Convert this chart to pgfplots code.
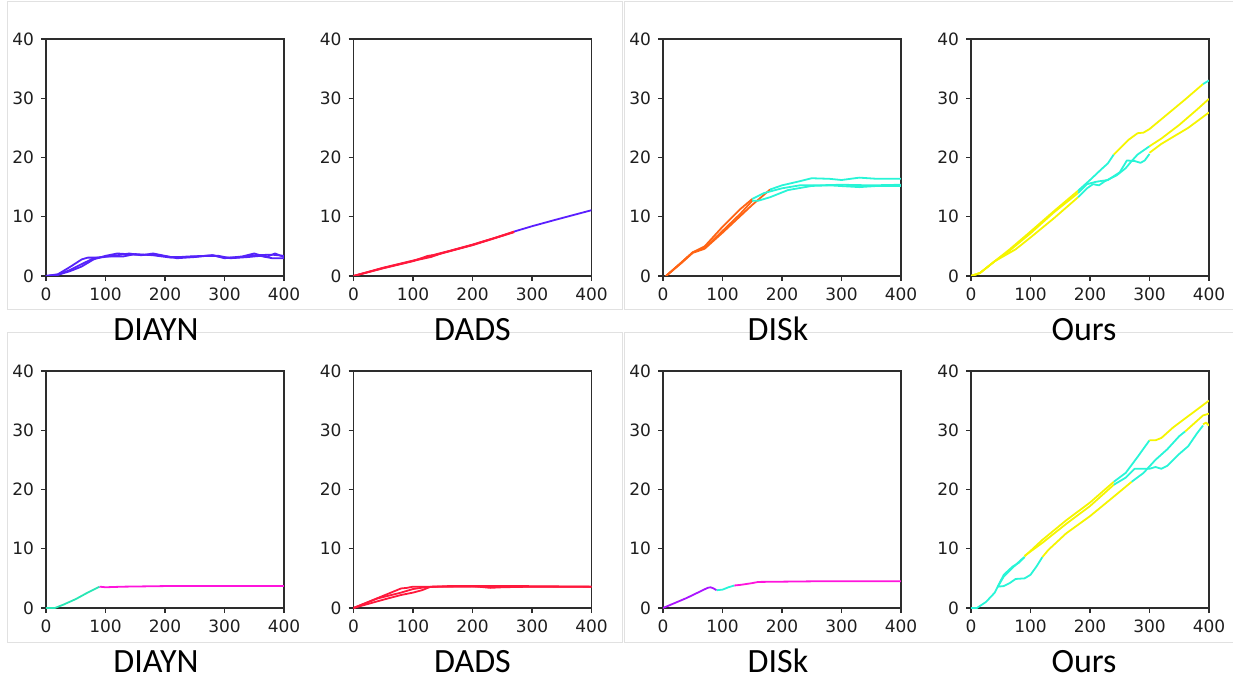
\documentclass[border=0pt]{standalone}
\usepackage{fontspec}
\setmainfont{DejaVu Sans}
\newfontfamily\labfont{Carlito}
\usepackage{pgfplots}
\pgfplotsset{compat=1.18}
\definecolor{axc}{RGB}{45,45,45}
\definecolor{tkc}{RGB}{30,30,30}
\definecolor{boxc}{RGB}{225,225,225}
\definecolor{cviolet}{RGB}{85,35,250}
\definecolor{cred}{RGB}{255,25,60}
\definecolor{cblue}{RGB}{90,30,255}
\definecolor{corange}{RGB}{255,100,20}
\definecolor{ccyan}{RGB}{40,245,215}
\definecolor{cyellow}{RGB}{245,245,0}
\definecolor{cmint}{RGB}{40,230,180}
\definecolor{cmag}{RGB}{255,20,220}
\definecolor{cpurple}{RGB}{170,20,255}
\pgfplotsset{sub/.style={width=119pt,height=118.5pt,scale only axis,
  xmin=0,xmax=400,ymin=0,ymax=40,
  xtick={0,100,200,300,400},ytick={0,10,20,30,40},
  tick pos=left,tick align=outside,major tick length=2.5pt,
  axis line style={draw=axc,line width=0.6pt},
  tick style={draw=axc,line width=0.6pt},
  tick label style={font=\fontsize{8.5}{10}\selectfont,text=tkc},
  /pgf/number format/assume math mode=true,
  anchor=south west,
  every axis plot/.append style={line width=0.9pt,no marks,line join=round}}}
\begin{document}
\begin{tikzpicture}
\useasboundingbox (0,0) rectangle (616.5pt,340.5pt);
% frames
\draw[boxc,line width=0.5pt] (3.5pt,339.5pt) rectangle (311pt,185.5pt);
\draw[boxc,line width=0.5pt] (312pt,339.5pt) rectangle (625pt,185.5pt);
\draw[boxc,line width=0.5pt] (3.5pt,174pt) rectangle (311pt,19.5pt);
\draw[boxc,line width=0.5pt] (312pt,174pt) rectangle (625pt,19.5pt);

% ---------- Top DIAYN ----------
\begin{axis}[sub,at={(23pt,202.5pt)}]
\addplot[cviolet] coordinates {(0,0)(20,0.3)(40,1.5)(60,2.8)(70,3.1)(90,3.1)(120,3.5)(140,3.8)(160,3.5)(180,3.8)(200,3.4)(220,3.0)(250,3.2)(280,3.5)(300,3.0)(330,3.3)(350,3.8)(370,3.2)(385,3.8)(400,3.2)};
\addplot[cviolet] coordinates {(0,0)(20,0.2)(40,1.0)(60,2.0)(80,3.0)(100,3.3)(130,3.3)(150,3.7)(180,3.5)(210,3.1)(240,3.3)(270,3.4)(290,3.4)(310,3.0)(340,3.2)(360,3.4)(380,3.0)(400,3.0)};
\addplot[cviolet] coordinates {(0,0)(20,0.2)(40,0.8)(60,1.6)(80,2.8)(100,3.4)(120,3.8)(150,3.6)(180,3.6)(210,3.2)(240,3.2)(280,3.5)(300,3.1)(320,3.1)(350,3.5)(380,3.6)(400,3.4)};
\end{axis}
\node[anchor=base,font=\labfont\fontsize{17}{19}\selectfont] at (78pt,170pt) {DIAYN};

% ---------- Top DADS ----------
\begin{axis}[sub,at={(176.75pt,202.5pt)}]
\addplot[cred] coordinates {(0,0)(50,1.4)(100,2.6)(120,3.1)(140,3.7)(160,4.2)(200,5.3)(240,6.5)(270,7.5)};
\addplot[cred] coordinates {(0,0)(50,1.3)(100,2.5)(125,3.4)(140,3.6)(170,4.4)(200,5.2)(270,7.4)};
\addplot[cred] coordinates {(0,0)(50,1.35)(100,2.55)(130,3.2)(150,3.9)(200,5.25)(270,7.45)};
\addplot[cblue] coordinates {(270,7.5)(300,8.4)(340,9.5)(370,10.3)(400,11.1)};
\end{axis}
\node[anchor=base,font=\labfont\fontsize{17}{19}\selectfont] at (236.25pt,170pt) {DADS};

% ---------- Top DISk ----------
\begin{axis}[sub,at={(331.5pt,202.5pt)}]
\addplot[corange] coordinates {(5,0)(30,2.2)(50,4.0)(60,4.5)(70,5.0)(100,8.3)(130,11.3)(150,13.0)};
\addplot[corange] coordinates {(5,0)(30,2.2)(50,4.0)(70,4.7)(100,7.6)(130,10.5)(150,12.7)};
\addplot[corange] coordinates {(5,0)(30,2.1)(50,3.9)(70,4.6)(100,7.3)(150,12.0)(180,14.6)};
\addplot[ccyan] coordinates {(180,14.6)(200,15.3)(230,16.0)(250,16.5)(280,16.4)(300,16.2)(330,16.6)(360,16.4)(400,16.4)};
\addplot[ccyan] coordinates {(150,13.0)(170,14.0)(200,14.8)(230,15.3)(260,15.3)(300,15.4)(350,15.3)(400,15.4)};
\addplot[ccyan] coordinates {(150,12.7)(160,12.7)(180,13.3)(210,14.5)(250,15.2)(280,15.3)(330,15.0)(360,15.2)(400,15.2)};
\end{axis}
\node[anchor=base,font=\labfont\fontsize{17}{19}\selectfont] at (389pt,170pt) {DISk};

% ---------- Top Ours ----------
\begin{axis}[sub,at={(485.5pt,202.5pt)}]
\addplot[cyellow] coordinates {(0,0)(15,0.5)(40,2.5)(65,4.5)(100,7.5)(140,11.0)(180,14.4)};
\addplot[cyellow] coordinates {(0,0)(15,0.5)(40,2.5)(65,4.3)(100,7.2)(140,10.8)(180,14.0)};
\addplot[cyellow] coordinates {(0,0)(15,0.5)(40,2.5)(75,4.5)(100,6.5)(140,9.8)(180,13.3)};
\addplot[ccyan] coordinates {(180,14.4)(200,16.2)(220,18.1)(230,19.0)(240,20.5)};
\addplot[cyellow] coordinates {(240,20.5)(265,23.0)(280,24.1)(290,24.2)(300,24.8)(330,27.3)(360,29.8)(390,32.4)};
\addplot[ccyan] coordinates {(390,32.4)(400,33.0)};
\addplot[ccyan] coordinates {(180,13.3)(195,14.8)(205,15.5)(215,15.3)(225,16.0)(245,17.0)(260,18.2)(270,19.4)(280,20.5)(290,21.2)(300,21.9)};
\addplot[cyellow] coordinates {(300,21.9)(320,23.2)(350,25.5)(380,28.1)(400,29.9)};
\addplot[ccyan] coordinates {(180,14.0)(195,15.5)(210,15.9)(230,16.2)(250,17.5)(262,19.5)(275,19.4)(285,19.1)(292,19.5)(300,20.6)};
\addplot[cyellow] coordinates {(300,20.8)(320,22.3)(340,23.5)(365,25.0)(400,27.6)};
\end{axis}
\node[anchor=base,font=\labfont\fontsize{17}{19}\selectfont] at (542pt,170pt) {Ours};

% ---------- Bottom DIAYN ----------
\begin{axis}[sub,at={(23pt,36.5pt)}]
\addplot[cmint] coordinates {(0,0)(15,0)(30,0.6)(50,1.5)(70,2.6)(90,3.6)};
\addplot[cmag] coordinates {(90,3.6)(100,3.5)(130,3.6)(200,3.7)(300,3.7)(400,3.7)};
\end{axis}
\node[anchor=base,font=\labfont\fontsize{17}{19}\selectfont] at (78pt,4.5pt) {DIAYN};

% ---------- Bottom DADS ----------
\begin{axis}[sub,at={(176.75pt,36.5pt)}]
\addplot[cred] coordinates {(0,0)(80,3.3)(90,3.4)(100,3.6)(120,3.6)(150,3.6)(250,3.6)(400,3.6)};
\addplot[cred] coordinates {(0,0)(50,1.4)(80,2.2)(100,2.6)(115,3.0)(130,3.6)(200,3.7)(230,3.4)(250,3.5)(300,3.6)(400,3.6)};
\addplot[cred] coordinates {(0,0)(40,1.6)(80,2.6)(100,3.2)(120,3.5)(160,3.7)(280,3.7)(400,3.6)};
\end{axis}
\node[anchor=base,font=\labfont\fontsize{17}{19}\selectfont] at (236.25pt,4.5pt) {DADS};

% ---------- Bottom DISk ----------
\begin{axis}[sub,at={(331.5pt,36.5pt)}]
\addplot[cpurple] coordinates {(0,0)(40,1.7)(75,3.4)(80,3.5)(85,3.3)(90,3.0)};
\addplot[ccyan] coordinates {(90,3.0)(100,3.1)(110,3.5)(120,3.8)};
\addplot[cmag] coordinates {(120,3.8)(130,3.9)(150,4.2)(160,4.4)(250,4.5)(400,4.5)};
\end{axis}
\node[anchor=base,font=\labfont\fontsize{17}{19}\selectfont] at (389pt,4.5pt) {DISk};

% ---------- Bottom Ours ----------
\begin{axis}[sub,at={(485.5pt,36.5pt)}]
\addplot[ccyan] coordinates {(0,0)(10,0)(25,1.0)(40,2.6)(45,3.6)(55,5.3)(70,6.8)(85,8.2)(90,8.6)};
\addplot[cyellow] coordinates {(90,8.7)(120,11.5)(160,14.8)(200,17.8)(240,21.3)};
\addplot[ccyan] coordinates {(240,21.3)(260,22.8)(280,25.5)(300,28.3)};
\addplot[cyellow] coordinates {(300,28.3)(310,28.3)(320,28.7)(340,30.5)(360,32.0)(380,33.5)(400,35.0)};
\addplot[ccyan] coordinates {(45,3.6)(55,5.6)(70,7.0)(80,7.6)(90,8.6)};
\addplot[cyellow] coordinates {(90,8.8)(120,11.0)(160,14.2)(200,17.2)(240,20.8)};
\addplot[ccyan] coordinates {(240,20.8)(260,22.0)(275,23.5)(290,23.5)(300,23.5)(310,23.8)(320,23.5)(330,24.0)(350,26.0)(365,27.3)(380,29.5)(390,30.8)};
\addplot[cyellow] coordinates {(390,31.0)(395,31.3)(400,30.8)};
\addplot[ccyan] coordinates {(45,3.6)(55,3.7)(65,4.2)(75,4.9)(90,5.0)(100,5.6)(110,7.0)(120,8.6)};
\addplot[cyellow] coordinates {(120,8.6)(130,9.8)(160,12.6)(200,15.5)(240,18.8)(270,21.3)};
\addplot[ccyan] coordinates {(270,21.3)(290,22.8)(310,25.0)(330,26.8)(350,29.0)(360,29.8)};
\addplot[cyellow] coordinates {(360,29.8)(380,31.6)(390,32.5)(400,32.8)};
\end{axis}
\node[anchor=base,font=\labfont\fontsize{17}{19}\selectfont] at (542pt,4.5pt) {Ours};
\end{tikzpicture}
\end{document}
